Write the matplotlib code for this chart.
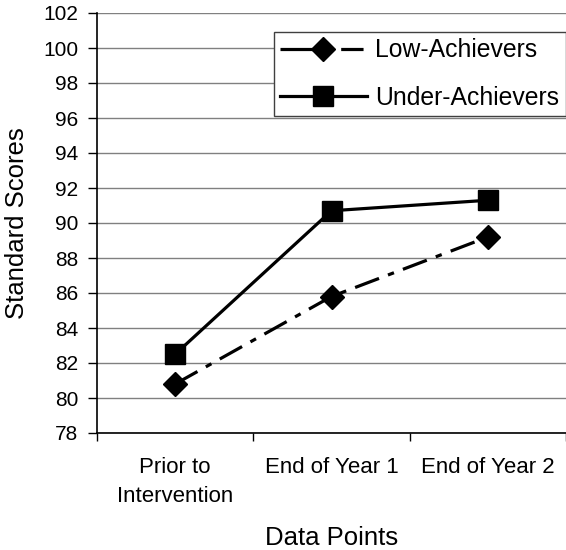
import matplotlib
matplotlib.use("Agg")
import matplotlib.pyplot as plt

categories = ["Prior to\nIntervention", "End of Year 1", "End of Year 2"]
low_achievers = [80.8, 85.8, 89.2]
under_achievers = [82.5, 90.7, 91.3]
y_ticks = list(range(78, 103, 2))

plt.rcParams["font.family"] = ["Liberation Sans", "DejaVu Sans"]

fig = plt.figure(figsize=(5.66, 5.5), dpi=100)
ax = fig.add_axes([97 / 566, 1 - 433 / 550, 1 - 97 / 566, 420 / 550])

x = range(len(categories))
ax.plot(x, low_achievers, color="black", lw=2.3, linestyle=(0, (8, 3, 2, 3)),
        marker="D", markersize=12.5, label="Low-Achievers", zorder=3)
ax.plot(x, under_achievers, color="black", lw=2.3, linestyle="-",
        marker="s", markersize=14, label="Under-Achievers", zorder=3)

ax.set_xlim(-0.5, 2.5)
ax.set_ylim(78, 102)
ax.set_yticks(y_ticks)
ax.tick_params(axis="y", labelsize=15, direction="out", length=6.5, width=1, pad=7)
ax.grid(axis="y", color="#808080", lw=1)
ax.set_axisbelow(True)

ax.set_xticks([0, 1, 2])
ax.set_xticklabels(categories, fontsize=16, linespacing=1.52)
ax.tick_params(axis="x", length=0, pad=17)
ax.set_xticks([-0.5, 0.5, 1.5, 2.5], minor=True)
ax.tick_params(axis="x", which="minor", direction="out", length=6, width=1)

for side in ("top", "right"):
    ax.spines[side].set_visible(False)
for side in ("left", "bottom"):
    ax.spines[side].set_linewidth(1.2)

ax.set_ylabel("Standard Scores", fontsize=18.5)
ax.yaxis.set_label_coords(-0.146, 0.5)
ax.set_xlabel("Data Points", fontsize=18.5)
ax.xaxis.set_label_coords(0.5, -0.222)

leg = ax.legend(loc="upper left", bbox_to_anchor=(274 / 566, 1 - 32 / 550),
                bbox_transform=fig.transFigure, fontsize=17.8, frameon=True,
                fancybox=False, edgecolor="#404040", framealpha=1,
                handlelength=3.5, handletextpad=0.35, borderpad=0.25,
                labelspacing=0.95, borderaxespad=0)
leg.get_frame().set_linewidth(1)
# legend sample for the dashed series: long dash through the marker, then a short one
leg.get_lines()[0].set_linestyle((0, (15, 4, 7, 10)))

fig.savefig("out.png", dpi=100)
